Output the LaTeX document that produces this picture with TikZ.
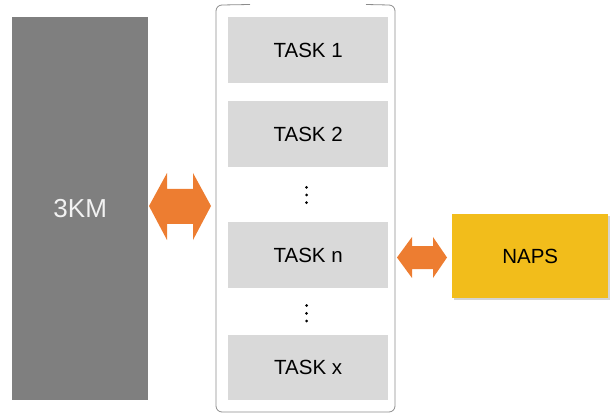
\documentclass[tikz,border=0pt]{standalone}
\usepackage{fontspec}
\setmainfont{Liberation Sans}
\usetikzlibrary{shadows}
\definecolor{kmgray}{HTML}{7F7F7F}
\definecolor{taskgray}{HTML}{D9D9D9}
\definecolor{arrorange}{HTML}{ED7D31}
\definecolor{napsyellow}{HTML}{F2BD1B}
\definecolor{brackgray}{HTML}{8C8C8C}
\begin{document}
\begin{tikzpicture}[x=1pt,y=-1pt,
  taskbox/.style={fill=taskgray, minimum width=160pt, minimum height=66pt, inner sep=0pt, font=\fontsize{20.5}{23}\selectfont, anchor=north west},
  bigarrow/.style={fill=arrorange},
  dotmark/.style={fill=black, circle, inner sep=0pt, minimum size=3pt}]
\useasboundingbox (0,0) rectangle (613,414);
% 3KM block
\node[fill=kmgray, minimum width=136pt, minimum height=383pt, inner sep=0pt, anchor=north west,
  text=white!95!black, font=\fontsize{26}{28}\selectfont] (km) at (12,17) {3KM};
% container bracket
\draw[brackgray, line width=0.8pt] (250,4.5) -- (222,5) to[out=180,in=90] (216,11) -- (216,406) to[out=-90,in=180] (222,412) -- (389,412) to[out=0,in=-90] (395,406) -- (395,11) to[out=90,in=0] (389,5) -- (366,4.5);
% tasks
\node[taskbox] (t1) at (228,17) {TASK 1};
\node[taskbox] (t2) at (228,101) {TASK 2};
\node[taskbox] (tn) at (228,222) {TASK n};
\node[taskbox, minimum height=65pt] (tx) at (228,335) {TASK x};
% dots
\foreach \yy [count=\i] in {187.3,195,202.7} \node[dotmark] (da\i) at (306.5,\yy) {};
\foreach \yy [count=\i] in {305.5,313.3,321} \node[dotmark] (db\i) at (306.5,\yy) {};
% NAPS
\node[fill=napsyellow, minimum width=156pt, minimum height=84pt, inner sep=0pt, anchor=north west,
  drop shadow={shadow xshift=2pt, shadow yshift=-2pt, opacity=0.35},
  font=\fontsize{20.5}{23}\selectfont] (naps) at (452,214) {NAPS};
% left double arrow
\fill[bigarrow] (149,206) -- (167,173) -- (167,189) -- (193,189) -- (193,173) -- (211,206)
  -- (193,240) -- (193,224) -- (167,224) -- (167,240) -- cycle;
% right double arrow
\fill[bigarrow] (397,257.5) -- (412,237) -- (412,246) -- (433,246) -- (433,237) -- (447,257.5)
  -- (433,278) -- (433,269) -- (412,269) -- (412,278) -- cycle;
\end{tikzpicture}
\end{document}
